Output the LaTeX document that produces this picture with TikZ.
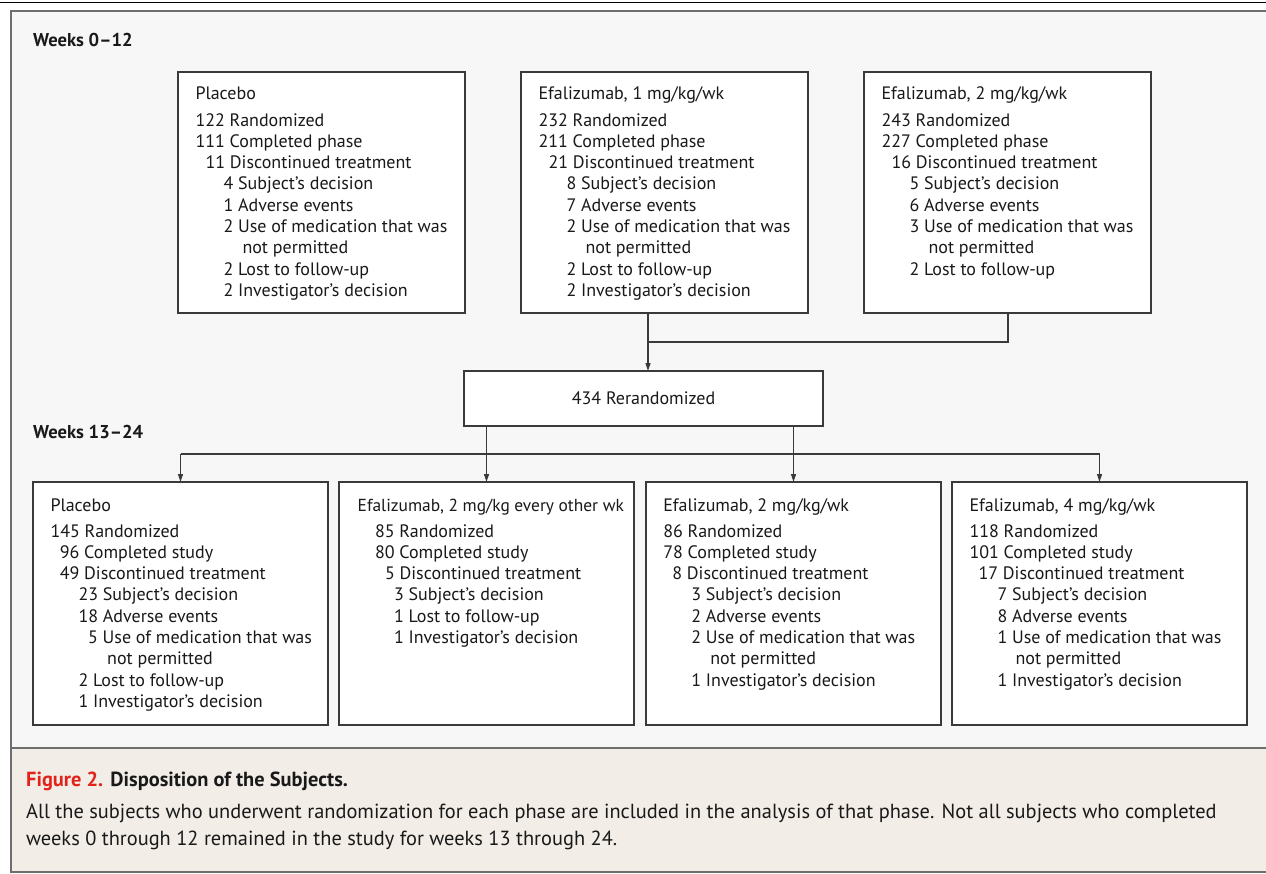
\documentclass[tikz,border=0pt]{standalone}
\usepackage{fontspec}
\setmainfont{PT Sans}
\usetikzlibrary{arrows.meta}
\definecolor{panelbg}{HTML}{F7F7F7}
\definecolor{capbg}{HTML}{F2EDE7}
\definecolor{framegray}{HTML}{6E6E6E}
\definecolor{boxline}{HTML}{3A3A3A}
\definecolor{figred}{HTML}{E2231A}
\newcommand{\indl}[2]{\strut\hspace*{#1pt}#2}
\tikzset{
  boxnode/.style={draw=boxline, line width=1.3pt, fill=white, inner sep=0pt, outer sep=0pt, anchor=north west},
  topbox/.style={boxnode, minimum width=287pt, minimum height=241pt},
  botbox/.style={boxnode, minimum width=295pt, minimum height=243pt},
  boxtext/.style={anchor=north west, inner sep=0pt, outer sep=0pt, align=left, text=black!90,
    font=\fontsize{18}{21.3}\selectfont},
  weeklabel/.style={anchor=base west, inner sep=0pt, font=\fontsize{18.6}{21}\selectfont\bfseries, text=black!90},
  captext/.style={anchor=base west, inner sep=0pt, font=\fontsize{20.4}{24}\selectfont, text=black!90},
  conn/.style={draw=boxline, line width=1.2pt},
  arr/.style={conn, -{Stealth[length=8pt, width=5pt, inset=0pt]}}
}
\begin{document}
\begin{tikzpicture}[x=1pt, y=-1pt]
\useasboundingbox (0,0) rectangle (1266,873);
\clip (0,0) rectangle (1266,873);
% background and frame
\fill[white] (0,0) rectangle (1266,873);
\draw[black, line width=1.6pt] (0,2.5) -- (1266,2.5);
\fill[panelbg] (10,10) rectangle (1280,748);
\fill[capbg] (10,748) rectangle (1280,872);
\draw[framegray, line width=2pt] (1280,10.5) -- (10.5,10.5) -- (10.5,872) -- (1280,872);
\draw[framegray, line width=2pt] (10.5,748) -- (1280,748);

% week labels
\node[weeklabel] (w1) at (33,46.7) {Weeks 0–12};
\node[weeklabel] (w2) at (33,438.3) {Weeks 13–24};

% top boxes
\node[topbox] (t1) at (178,72) {};
\node[topbox] (t2) at (521,72) {};
\node[topbox] (t3) at (864,72) {};

\node[boxtext] (t1x) at ([xshift=17.5pt, yshift=-12.4pt]t1.north west) {%
\indl{0}{Placebo}\\[5.4pt]
\indl{0}{122 Randomized}\\
\indl{0}{111 Completed phase}\\
\indl{10}{11 Discontinued treatment}\\
\indl{28}{4 Subject’s decision}\\
\indl{28}{1 Adverse events}\\
\indl{28}{2 Use of medication that was}\\
\indl{47}{not permitted}\\
\indl{28}{2 Lost to follow-up}\\
\indl{28}{2 Investigator’s decision}};

\node[boxtext] (t2x) at ([xshift=17.5pt, yshift=-12.4pt]t2.north west) {%
\indl{0}{Efalizumab, 1 mg/kg/wk}\\[5.4pt]
\indl{0}{232 Randomized}\\
\indl{0}{211 Completed phase}\\
\indl{10}{21 Discontinued treatment}\\
\indl{28}{8 Subject’s decision}\\
\indl{28}{7 Adverse events}\\
\indl{28}{2 Use of medication that was}\\
\indl{47}{not permitted}\\
\indl{28}{2 Lost to follow-up}\\
\indl{28}{2 Investigator’s decision}};

\node[boxtext] (t3x) at ([xshift=17.5pt, yshift=-12.4pt]t3.north west) {%
\indl{0}{Efalizumab, 2 mg/kg/wk}\\[5.4pt]
\indl{0}{243 Randomized}\\
\indl{0}{227 Completed phase}\\
\indl{10}{16 Discontinued treatment}\\
\indl{28}{5 Subject’s decision}\\
\indl{28}{6 Adverse events}\\
\indl{28}{3 Use of medication that was}\\
\indl{47}{not permitted}\\
\indl{28}{2 Lost to follow-up}};

% rerandomized
\node[boxnode, minimum width=359pt, minimum height=55pt, font=\fontsize{18}{21.3}\selectfont, text=black!90] (rer) at (464,371) {434 Rerandomized};

% bottom boxes
\node[botbox] (b1) at (33,482) {};
\node[botbox] (b2) at (339,482) {};
\node[botbox] (b3) at (646,482) {};
\node[botbox] (b4) at (952,482) {};

\node[boxtext] (b1x) at ([xshift=17.5pt, yshift=-14.8pt]b1.north west) {%
\indl{0}{Placebo}\\[4pt]
\indl{0}{145 Randomized}\\
\indl{9.3}{96 Completed study}\\
\indl{9.3}{49 Discontinued treatment}\\
\indl{28}{23 Subject’s decision}\\
\indl{28}{18 Adverse events}\\
\indl{37.6}{5 Use of medication that was}\\
\indl{56.7}{not permitted}\\
\indl{28}{2 Lost to follow-up}\\
\indl{28}{1 Investigator’s decision}};

\node[boxtext] (b2x) at ([xshift=18.7pt, yshift=-14.8pt]b2.north west) {%
\indl{0}{{\fontsize{17.4}{21.3}\selectfont Efalizumab, 2 mg/kg every other wk}}\\[4pt]
\indl{17.3}{85 Randomized}\\
\indl{17.3}{80 Completed study}\\
\indl{27.3}{5 Discontinued treatment}\\
\indl{36.3}{3 Subject’s decision}\\
\indl{36.3}{1 Lost to follow-up}\\
\indl{36.3}{1 Investigator’s decision}};

\node[boxtext] (b3x) at ([xshift=17.3pt, yshift=-14.8pt]b3.north west) {%
\indl{0}{Efalizumab, 2 mg/kg/wk}\\[4pt]
\indl{0}{86 Randomized}\\
\indl{0}{78 Completed study}\\
\indl{9}{8 Discontinued treatment}\\
\indl{28}{3 Subject’s decision}\\
\indl{28}{2 Adverse events}\\
\indl{28}{2 Use of medication that was}\\
\indl{47}{not permitted}\\
\indl{28}{1 Investigator’s decision}};

\node[boxtext] (b4x) at ([xshift=17.5pt, yshift=-14.8pt]b4.north west) {%
\indl{0}{Efalizumab, 4 mg/kg/wk}\\[4pt]
\indl{0}{118 Randomized}\\
\indl{0}{101 Completed study}\\
\indl{9}{17 Discontinued treatment}\\
\indl{28}{7 Subject’s decision}\\
\indl{28}{8 Adverse events}\\
\indl{28}{1 Use of medication that was}\\
\indl{46}{not permitted}\\
\indl{28}{1 Investigator’s decision}};

% connectors top
\coordinate (j1) at (648,342);
\coordinate (j2) at (1008,342);
\draw[conn] (t2.south -| j1) -- (j1);
\draw[conn] (t3.south -| j2) -- (j2) -- (j1);
\draw[arr] (j1) -- (rer.north -| j1);

% connectors bottom
\coordinate (hl) at (0,454);
\draw[conn] (b1.north |- hl) -- (b4.north |- hl);
\draw[arr] (b1.north |- hl) -- (b1.north);
\draw[arr] (b4.north |- hl) -- (b4.north);
\draw[arr] (rer.south -| b2.north) -- (b2.north);
\draw[arr] (rer.south -| b3.north) -- (b3.north);

% caption
\node[captext] (cap1) at (26,786.7) {\textbf{\textcolor{figred}{Figure 2.}} \textbf{Disposition of the Subjects.}};
\node[captext] (cap2) at (26,818) {All the subjects who underwent randomization for each phase are included in the analysis of that phase. Not all subjects who completed};
\node[captext] (cap3) at (26,845) {weeks 0 through 12 remained in the study for weeks 13 through 24.};
\end{tikzpicture}
\end{document}
